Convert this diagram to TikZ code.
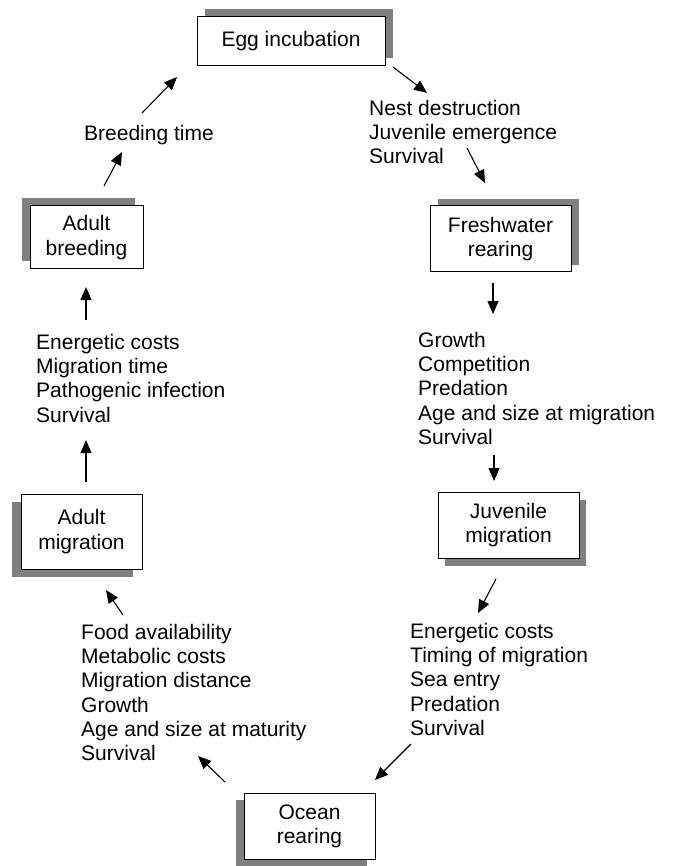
\documentclass[tikz,border=0pt]{standalone}
\usepackage{fontspec}
\setmainfont{Liberation Sans}
\usetikzlibrary{arrows.meta,shadows}
\definecolor{shadowgray}{HTML}{808080}
\tikzset{
  txt/.style={font=\fontsize{21}{24.2}\selectfont},
  stagebox/.style={draw=black, line width=1pt, fill=white, inner sep=0pt, align=center, txt},
  sh/.style 2 args={general shadow={shadow xshift=#1pt, shadow yshift=#2pt, fill=shadowgray}},
  factors/.style={txt, align=left, anchor=north west, inner sep=0pt},
  arr/.style={line width=1.1pt, -{Triangle[length=13pt,width=11pt]}}
}
\begin{document}
\begin{tikzpicture}[x=1pt,y=-1pt]
\useasboundingbox (0,0) rectangle (672,866);
% stage boxes
\node[stagebox, sh={8}{8}, minimum width=188pt, minimum height=49pt] (egg) at (291,41.5) {Egg incubation};
\node[stagebox, sh={-8}{8}, minimum width=113pt, minimum height=63pt] (breed) at (86.5,237.5) {Adult\\breeding};
\node[stagebox, sh={8}{7}, minimum width=141pt, minimum height=66pt] (fresh) at (500.5,239) {Freshwater\\rearing};
\node[stagebox, sh={-9}{-8}, minimum width=121pt, minimum height=75pt] (amig) at (81.5,531.5) {Adult\\migration};
\node[stagebox, sh={7}{-8}, minimum width=141pt, minimum height=66pt] (jmig) at (508.5,525) {Juvenile\\migration};
\node[stagebox, sh={-8}{-7}, minimum width=131pt, minimum height=66pt] (ocean) at (309.5,826) {Ocean\\rearing};
% factor texts
\node[factors] (nest) at (369,100) {Nest destruction\\Juvenile emergence\\Survival};
\node[factors] (btime) at (84,125) {Breeding time};
\node[factors] (fw) at (418,332) {Growth\\Competition\\Predation\\Age and size at migration\\Survival};
\node[factors] (jm) at (410,623) {Energetic costs\\Timing of migration\\Sea entry\\Predation\\Survival};
\node[factors] (am) at (36,334) {Energetic costs\\Migration time\\Pathogenic infection\\Survival};
\node[factors] (oc) at (81,624) {Food availability\\Metabolic costs\\Migration distance\\Growth\\Age and size at maturity\\Survival};
% arrow end points
\coordinate (a1s) at (393,67);  \coordinate (a1e) at (427,93);
\coordinate (a2s) at (467,148); \coordinate (a2e) at (485,183);
\coordinate (a3s) at (493,283); \coordinate (a3e) at (493,314);
\coordinate (a4s) at (494,455); \coordinate (a4e) at (494,481);
\coordinate (a5s) at (496,579); \coordinate (a5e) at (478,613);
\coordinate (a6s) at (411,744); \coordinate (a6e) at (375,780);
\coordinate (a7s) at (225,782); \coordinate (a7e) at (198,756);
\coordinate (a8s) at (123,615); \coordinate (a8e) at (106,590);
\coordinate (a9s) at (86,482);  \coordinate (a9e) at (86,440);
\coordinate (a10s) at (86,320); \coordinate (a10e) at (86,287);
\coordinate (a11s) at (104,186); \coordinate (a11e) at (122,152);
\coordinate (a12s) at (142,113); \coordinate (a12e) at (177,77);
\foreach \i in {1,...,12} {\draw[arr] (a\i s) -- (a\i e);}
\end{tikzpicture}
\end{document}
